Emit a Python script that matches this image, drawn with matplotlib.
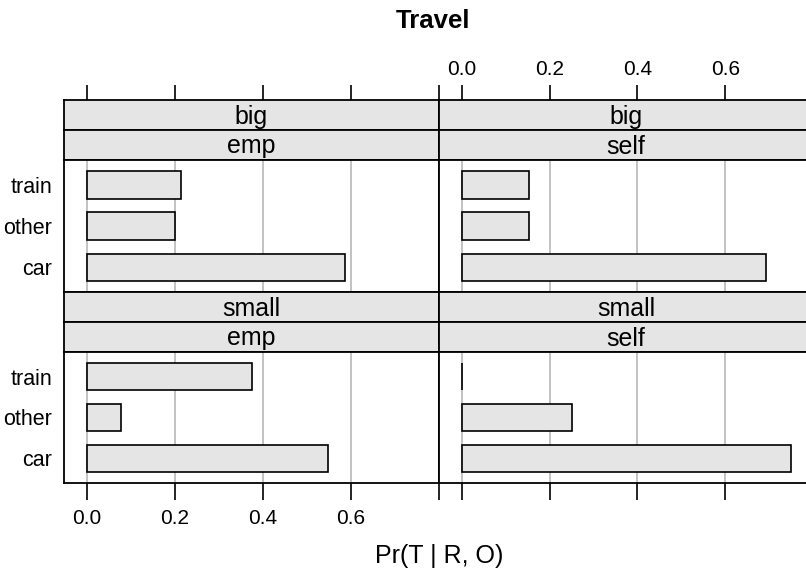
import numpy as np
import matplotlib
matplotlib.use("Agg")
import matplotlib.pyplot as plt

plt.rcParams["font.family"] = ["Liberation Sans", "DejaVu Sans"]

# P(T | R, O) per panel, mode order bottom -> top
MODES = ["car", "other", "train"]
BIG_EMP = [0.5856, 0.1999, 0.2145]
BIG_SELF = [0.6923, 0.1538, 0.1538]
SMALL_EMP = [0.5479, 0.0768, 0.3753]
SMALL_SELF = [0.7500, 0.2500, 0.0000]
XTICKS = [0.0, 0.2, 0.4, 0.6, 0.8]
XTICKLABELS = ["0.0", "0.2", "0.4", "0.6", ""]

W, H = 806, 573
STRIP_BG = "#e5e5e5"
BAR_FILL = "#e5e5e5"
GRID = "#bdbdbd"
XLIM = (-0.052, 0.8)

fig = plt.figure(figsize=(W / 100, H / 100), dpi=100)


def px_axes(l, t, r, b):
    return fig.add_axes([l / W, 1 - b / H, (r - l) / W, (b - t) / H])


def strip(l, t, r, b, text):
    ax = px_axes(l, t, r, b)
    ax.set_facecolor(STRIP_BG)
    ax.set_xlim(XLIM)
    ax.set_ylim(0, 1)
    ax.text(0.5, 0.45, text, transform=ax.transAxes, ha="center", va="center",
            fontsize=18)
    for s in ax.spines.values():
        s.set_linewidth(1.3)
    ax.set_yticks([])
    return ax


cols = [(64, 439), (439, 813)]
rows = [(100, 130, 160, 292), (292, 322, 352, 483)]
panels = [
    (0, 0, "big", "emp", BIG_EMP),
    (0, 1, "big", "self", BIG_SELF),
    (1, 0, "small", "emp", SMALL_EMP),
    (1, 1, "small", "self", SMALL_SELF),
]

ypos = np.arange(1, len(MODES) + 1)

for r, c, size, occ, vals in panels:
    l, rr = cols[c]
    t0, t1, t2, b = rows[r]
    top = strip(l, t0, rr, t1, size)
    mid = strip(l, t1, rr, t2, occ)
    mid.set_xticks([])
    ax = px_axes(l, t2, rr, b)
    ax.set_xlim(XLIM)
    ax.set_ylim(0.4, len(MODES) + 0.6)
    for g in XTICKS[:-1]:
        ax.axvline(g, color=GRID, lw=1.3, zorder=0)
    ax.barh(ypos, vals, height=2 / 3, color=BAR_FILL, edgecolor="black",
            linewidth=1.2, zorder=2)
    for s in ax.spines.values():
        s.set_linewidth(1.3)

    # y labels on the left column only
    ax.set_yticks(ypos)
    if c == 0:
        ax.set_yticklabels(MODES, fontsize=15.5)
        ax.tick_params(axis="y", length=0, pad=8.5)
    else:
        ax.set_yticklabels([])
        ax.tick_params(axis="y", length=0)

    # top axis ticks above the top row, labels on the right panel
    if r == 0:
        top.set_xticks(XTICKS)
        top.xaxis.set_ticks_position("top")
        top.tick_params(axis="x", direction="out", length=11, width=1.2,
                        pad=4, labelsize=15)
        top.set_xticklabels(XTICKLABELS if c == 1 else [])
        ax.set_xticks([])
    else:
        top.set_xticks([])
        ax.set_xticks(XTICKS)
        ax.tick_params(axis="x", direction="out", length=12, width=1.2,
                       pad=7, labelsize=15)
        ax.set_xticklabels(XTICKLABELS if c == 0 else [])

fig.text(433 / W, 1 - 21 / H, "Travel", ha="center", va="center",
         fontsize=18.5, fontweight="bold")
fig.text(439 / W, 1 - 556 / H, "Pr(T | R, O)", ha="center", va="center",
         fontsize=18)

fig.savefig("out.png", dpi=100)
